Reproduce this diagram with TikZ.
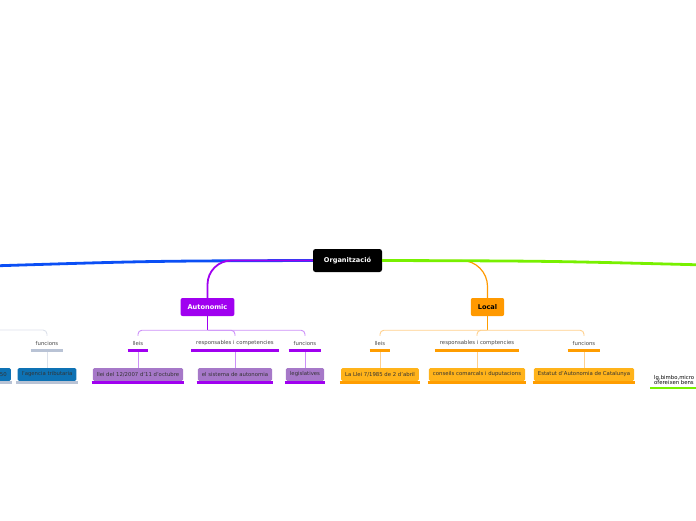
\documentclass[tikz,border=0pt]{standalone}
\usepackage{fontspec}
\setmainfont{DejaVu Sans}
\usepackage{xcolor}
\usepackage{tikz}

\definecolor{mapblue}{HTML}{0B4FF5}
\definecolor{mapgreen}{HTML}{78F000}
\definecolor{mappurple}{HTML}{A000F0}
\definecolor{purplelink}{HTML}{CC90F8}
\definecolor{purplebox}{HTML}{A678C8}
\definecolor{maporange}{HTML}{FF9900}
\definecolor{orangelink}{HTML}{FFD08C}
\definecolor{orangebox}{HTML}{FFB31A}
\definecolor{orangeline}{HTML}{FF9D00}
\definecolor{taxbox}{HTML}{0E72B4}
\definecolor{taxline}{HTML}{B9C3D5}
\definecolor{taxlink}{HTML}{DCE1EA}
\definecolor{labeltext}{HTML}{444444}

\begin{document}
\begin{tikzpicture}[x=1pt,y=1pt,node distance=36pt]
      \tikzset{root/.style={rectangle,fill=black,text=white,rounded corners=2.5pt,minimum width=69pt,minimum height=23pt,font=\fontsize{6.6}{7}\selectfont\bfseries}}
      \tikzset{branch/.style={rectangle,rounded corners=2pt,minimum height=18pt,inner xsep=7pt,font=\fontsize{6.6}{7}\selectfont\bfseries}}
      \tikzset{topic/.style={rectangle,inner xsep=5pt,inner ysep=0pt,minimum height=14pt,text=labeltext,font=\fontsize{5.35}{6}\selectfont}}
      \tikzset{leaf/.style={rectangle,rounded corners=1.5pt,inner xsep=4pt,inner ysep=0pt,minimum height=13pt,text=black!80,font=\fontsize{5.35}{6}\selectfont}}
      \tikzset{link/.style={line width=0.9pt,rounded corners=4pt}}
      \tikzset{under/.style={line width=2.6pt}}

      \useasboundingbox (0,0) rectangle (696,-520);

      \node[root] (org) at (347.5,-260.5) {Organització};
      \node[branch,fill=mappurple,text=white] (auto) [below of=org,xshift=-140pt,yshift=-10.5pt] {Autonomic};
      \node[branch,fill=maporange,text=black] (local) [below of=org,xshift=140pt,yshift=-10.5pt] {Local};

      \node[topic] (alleis) [below of=auto,xshift=-69.5pt] {lleis};
      \node[topic] (aresp) [below of=auto,xshift=27.5pt] {responsables i competencies};
      \node[topic] (afunc) [below of=auto,xshift=97.5pt] {funcions};

      \node[leaf,fill=purplebox] (alleisbox) [below of=alleis,yshift=4.5pt] {llei del 12/2007 d'11 d'octubre};
      \node[leaf,fill=purplebox] (arespbox) [below of=aresp,yshift=4.5pt] {el sistema de autonomia};
      \node[leaf,fill=purplebox] (afuncbox) [below of=afunc,yshift=4.5pt] {legislatives};

      \node[topic] (llleis) [below of=local,xshift=-107.5pt] {lleis};
      \node[topic] (lresp) [below of=local,xshift=-10.5pt] {responsables i comptencies};
      \node[topic] (lfunc) [below of=local,xshift=96.5pt] {funcions};

      \node[leaf,fill=orangebox] (llleisbox) [below of=llleis,yshift=4.5pt] {La Llei 7/1985 de 2 d'abril};
      \node[leaf,fill=orangebox] (lrespbox) [below of=lresp,yshift=4.5pt] {conseils comarcals i duputacions};
      \node[leaf,fill=orangebox] (lfuncbox) [below of=lfunc,yshift=4.5pt] {Estatut d'Autonomia de Catalunya};

      \node[topic] (tfunc) at (47,-343) {funcions};
      \node[leaf,fill=taxbox] (tfuncbox) [below of=tfunc,yshift=4.5pt] {l'agencia tributaria};
      \node[leaf,fill=taxbox,anchor=east,text width=40pt,align=right] (tprev) at (11,-374.5) {50};

      \node[inner sep=0pt,anchor=north west,align=left,font=\fontsize{5.35}{5.6}\selectfont] (note) at (654,-375) {lg,bimbo,micro\\ofereixen bens};

      \coordinate (bend) at (-10,-266);
      \coordinate (gend) at (706,-265);
      \coordinate (tstart) at (-10,-330);
      \coordinate (ajoin) at ([yshift=-14pt]auto.south);
      \coordinate (ljoin) at ([yshift=-14pt]local.south);

      \draw[mapblue,line width=2.8pt] (org.west) .. controls (150,-261) .. (bend);
      \draw[mappurple,line width=1.8pt,rounded corners=24pt] (org.west) -| (auto.north);
      \draw[maporange,line width=1.2pt,rounded corners=26pt] (org.east) -| (local.north);
      \draw[mapgreen,line width=2.8pt] (org.east) .. controls (550,-261) .. (gend);

      \draw[mappurple,line width=0.9pt] (auto.south) -- (ajoin);
      \draw[link,purplelink] (ajoin) -| (alleis.north);
      \draw[link,purplelink] (ajoin) -| (aresp.north);
      \draw[link,purplelink] (ajoin) -| (afunc.north);
      \draw[link,purplelink] (alleis.south) -- (alleisbox.north);
      \draw[link,purplelink] (aresp.south) -- (arespbox.north);
      \draw[link,purplelink] (afunc.south) -- (afuncbox.north);

      \draw[orangeline,line width=0.9pt] (local.south) -- (ljoin);
      \draw[link,orangelink] (ljoin) -| (llleis.north);
      \draw[link,orangelink] (ljoin) -| (lresp.north);
      \draw[link,orangelink] (ljoin) -| (lfunc.north);
      \draw[link,orangelink] (llleis.south) -- (llleisbox.north);
      \draw[link,orangelink] (lresp.south) -- (lrespbox.north);
      \draw[link,orangelink] (lfunc.south) -- (lfuncbox.north);

      \draw[link,taxlink] (tstart) -| (tfunc.north);
      \draw[link,taxlink] (tfunc.south) -- (tfuncbox.north);

      \draw[under,mappurple] (alleis.south west) -- (alleis.south east);
      \draw[under,mappurple] (aresp.south west) -- (aresp.south east);
      \draw[under,mappurple] (afunc.south west) -- (afunc.south east);
      \draw[under,mappurple] ([xshift=-1pt,yshift=-1pt]alleisbox.south west) -- ([xshift=1pt,yshift=-1pt]alleisbox.south east);
      \draw[under,mappurple] ([xshift=-1pt,yshift=-1pt]arespbox.south west) -- ([xshift=1pt,yshift=-1pt]arespbox.south east);
      \draw[under,mappurple] ([xshift=-1pt,yshift=-1pt]afuncbox.south west) -- ([xshift=1pt,yshift=-1pt]afuncbox.south east);

      \draw[under,orangeline] (llleis.south west) -- (llleis.south east);
      \draw[under,orangeline] (lresp.south west) -- (lresp.south east);
      \draw[under,orangeline] (lfunc.south west) -- (lfunc.south east);
      \draw[under,orangeline] ([xshift=-1pt,yshift=-1pt]llleisbox.south west) -- ([xshift=1pt,yshift=-1pt]llleisbox.south east);
      \draw[under,orangeline] ([xshift=-1pt,yshift=-1pt]lrespbox.south west) -- ([xshift=1pt,yshift=-1pt]lrespbox.south east);
      \draw[under,orangeline] ([xshift=-1pt,yshift=-1pt]lfuncbox.south west) -- ([xshift=1pt,yshift=-1pt]lfuncbox.south east);

      \draw[under,taxline] (tfunc.south west) -- (tfunc.south east);
      \draw[under,taxline] ([xshift=-1pt,yshift=-1pt]tfuncbox.south west) -- ([xshift=1pt,yshift=-1pt]tfuncbox.south east);
      \draw[under,taxline] ([xshift=-1pt,yshift=-1pt]tprev.south west) -- ([xshift=1pt,yshift=-1pt]tprev.south east);

      \draw[under,mapgreen] ([xshift=-4pt,yshift=-3pt]note.south west) -- ++(60,0);
\end{tikzpicture}
\end{document}
